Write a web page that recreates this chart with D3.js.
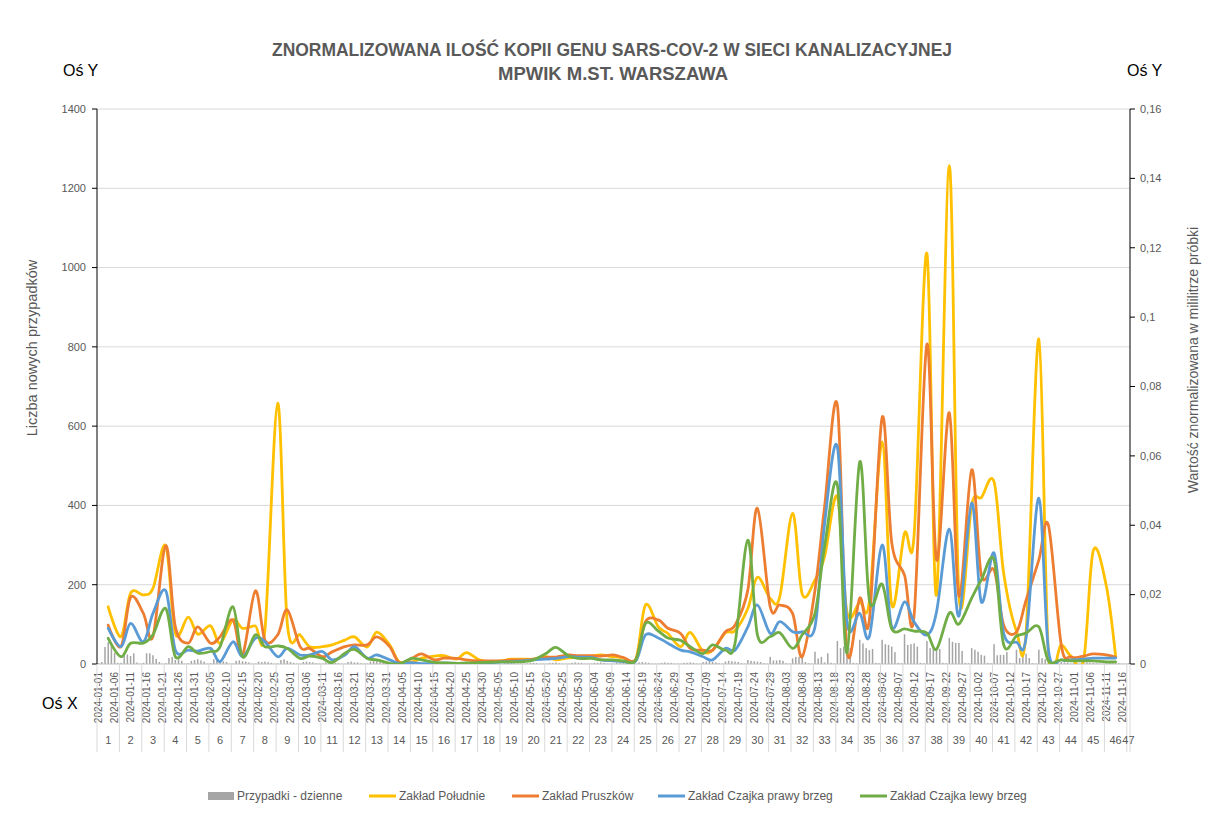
<!DOCTYPE html>
<html><head><meta charset="utf-8">
<script src="https://cdn.jsdelivr.net/npm/d3@7"></script>
<style>body{margin:0;background:#fff}svg{display:block}</style>
</head><body>
<svg id="chart" width="1221" height="816"></svg>
<script>
// ---- DATA ----
const sampleDates = ["2024-01-04","2024-01-08","2024-01-11","2024-01-15","2024-01-18","2024-01-22","2024-01-25","2024-01-29","2024-02-01","2024-02-05","2024-02-08","2024-02-12","2024-02-15","2024-02-19","2024-02-22","2024-02-26","2024-02-29","2024-03-04","2024-03-07","2024-03-11","2024-03-14","2024-03-18","2024-03-21","2024-03-25","2024-03-28","2024-04-01","2024-04-04","2024-04-08","2024-04-11","2024-04-15","2024-04-18","2024-04-22","2024-04-25","2024-04-29","2024-05-02","2024-05-06","2024-05-09","2024-05-13","2024-05-16","2024-05-20","2024-05-23","2024-05-27","2024-05-30","2024-06-03","2024-06-06","2024-06-10","2024-06-13","2024-06-17","2024-06-20","2024-06-24","2024-06-27","2024-07-01","2024-07-04","2024-07-08","2024-07-11","2024-07-15","2024-07-18","2024-07-22","2024-07-25","2024-07-29","2024-08-01","2024-08-05","2024-08-08","2024-08-12","2024-08-15","2024-08-19","2024-08-22","2024-08-26","2024-08-29","2024-09-02","2024-09-05","2024-09-09","2024-09-12","2024-09-16","2024-09-19","2024-09-23","2024-09-26","2024-09-30","2024-10-03","2024-10-07","2024-10-10","2024-10-14","2024-10-17","2024-10-21","2024-10-24","2024-10-28","2024-10-31","2024-11-04","2024-11-07","2024-11-11","2024-11-14"];

const poludnie = [0.0165,0.0079,0.0204,0.0199,0.0218,0.0341,0.0088,0.0135,0.0086,0.0110,0.0060,0.0127,0.0103,0.0110,0.0098,0.0752,0.0117,0.0084,0.0050,0.0050,0.0055,0.0069,0.0078,0.0049,0.0092,0.0055,0.0006,0.0006,0.0017,0.0023,0.0024,0.0014,0.0033,0.0012,0.0007,0.0009,0.0014,0.0014,0.0014,0.0021,0.0012,0.0018,0.0019,0.0023,0.0026,0.0021,0.0018,0.0014,0.0170,0.0107,0.0088,0.0050,0.0091,0.0036,0.0040,0.0090,0.0096,0.0160,0.0250,0.0189,0.0194,0.0434,0.0202,0.0242,0.0310,0.0482,0.0150,0.0178,0.0180,0.0640,0.0170,0.0377,0.0372,0.1184,0.0199,0.1437,0.0200,0.0460,0.0480,0.0525,0.0262,0.0095,0.0090,0.0937,0.0032,0.0055,0.0023,0.0012,0.0326,0.0230,0.0023];

const pruszkow = [0.0112,0.0050,0.0192,0.0146,0.0079,0.0341,0.0107,0.0060,0.0107,0.0060,0.0079,0.0127,0.0026,0.0211,0.0069,0.0084,0.0156,0.0050,0.0045,0.0021,0.0035,0.0050,0.0055,0.0055,0.0078,0.0050,0.0004,0.0017,0.0029,0.0012,0.0017,0.0016,0.0012,0.0009,0.0009,0.0009,0.0012,0.0012,0.0014,0.0019,0.0020,0.0026,0.0024,0.0024,0.0023,0.0026,0.0019,0.0014,0.0122,0.0127,0.0103,0.0088,0.0045,0.0040,0.0040,0.0093,0.0112,0.0213,0.0449,0.0165,0.0170,0.0146,0.0021,0.0213,0.0453,0.0746,0.0040,0.0190,0.0127,0.0711,0.0350,0.0256,0.0141,0.0922,0.0300,0.0724,0.0196,0.0560,0.0257,0.0271,0.0112,0.0092,0.0184,0.0300,0.0400,0.0055,0.0020,0.0023,0.0029,0.0026,0.0020];

const czajkaPrawy = [0.0103,0.0050,0.0117,0.0064,0.0146,0.0211,0.0040,0.0040,0.0037,0.0045,0.0007,0.0064,0.0021,0.0074,0.0064,0.0021,0.0045,0.0026,0.0026,0.0036,0.0012,0.0026,0.0050,0.0017,0.0026,0.0012,0.0002,0.0004,0.0001,0.0002,0.0003,0.0002,0.0001,0.0003,0.0003,0.0006,0.0006,0.0009,0.0012,0.0014,0.0016,0.0021,0.0020,0.0019,0.0012,0.0009,0.0007,0.0009,0.0084,0.0075,0.0060,0.0040,0.0035,0.0021,0.0012,0.0045,0.0040,0.0107,0.0170,0.0088,0.0122,0.0093,0.0093,0.0107,0.0405,0.0626,0.0122,0.0146,0.0079,0.0343,0.0107,0.0179,0.0121,0.0084,0.0150,0.0389,0.0138,0.0464,0.0179,0.0320,0.0089,0.0063,0.0075,0.0478,0.0040,0.0012,0.0012,0.0014,0.0017,0.0017,0.0017];

const czajkaLewy = [0.0074,0.0021,0.0060,0.0060,0.0084,0.0160,0.0021,0.0050,0.0031,0.0036,0.0050,0.0165,0.0021,0.0084,0.0050,0.0052,0.0045,0.0016,0.0023,0.0016,0.0004,0.0031,0.0042,0.0016,0.0012,0.0002,0.0000,0.0016,0.0012,0.0005,0.0003,0.0002,0.0003,0.0004,0.0005,0.0006,0.0006,0.0007,0.0012,0.0031,0.0048,0.0023,0.0016,0.0016,0.0012,0.0012,0.0009,0.0012,0.0117,0.0095,0.0075,0.0068,0.0050,0.0030,0.0055,0.0040,0.0060,0.0357,0.0084,0.0079,0.0090,0.0045,0.0084,0.0146,0.0338,0.0516,0.0032,0.0583,0.0184,0.0230,0.0101,0.0101,0.0095,0.0089,0.0043,0.0147,0.0115,0.0190,0.0242,0.0300,0.0055,0.0081,0.0089,0.0107,0.0009,0.0012,0.0009,0.0009,0.0009,0.0006,0.0006];

// daily new cases, 2024-01-01 .. 2024-11-18 (weeks Mon..Sun)
const dailyCases = [
 2,5,43,55,50,28,3,  3,23,24,20,27,4,1,  3,27,27,22,13,5,1,  2,15,18,10,12,8,1,
 2,8,10,12,9,6,1,  2,12,10,8,7,5,1,  1,8,9,7,6,4,1,  1,6,5,6,5,3,1,
 1,10,12,8,5,3,1,  1,5,6,5,4,2,1,  1,4,5,4,3,2,1,  1,5,6,4,4,2,1,
 1,6,8,12,10,3,1,  1,4,3,4,3,1,1,  1,3,4,3,2,1,1,  1,3,3,2,3,1,1,
 1,2,3,3,2,1,1,  1,2,2,3,2,1,0,  0,2,3,2,2,1,1,  1,2,3,3,2,1,1,
 1,3,3,4,2,1,1,  1,3,4,3,3,1,1,  1,3,3,4,3,1,1,  1,4,3,3,2,1,1,
 1,4,5,4,3,1,1,  1,3,4,3,3,1,1,  1,3,3,4,3,1,1,  5,6,7,5,4,2,1,
 6,8,7,6,5,2,1,  10,8,7,6,5,2,1,  18,9,9,10,8,2,1,  14,18,18,16,5,2,1,
 31,14,18,4,27,3,1,  58,40,44,48,40,3,2,  61,52,40,35,38,3,2,  61,50,48,44,30,3,2,
 75,48,50,52,44,3,2,  58,40,46,42,38,3,2,  66,56,53,53,33,3,2,  40,36,31,23,21,3,2,
 50,22,23,23,30,3,2,  36,15,23,26,15,2,1,  36,15,12,8,6,2,1,  5,4,4,1,3,1,1,
 4,4,3,3,2,1,1,  3,3,2,5,2,1,1,  2
];

const leftTicks = [0,200,400,600,800,1000,1200,1400];
const rightTicks = [0,0.02,0.04,0.06,0.08,0.1,0.12,0.14,0.16];
const rightTickLabels = ["0","0,02","0,04","0,06","0,08","0,1","0,12","0,14","0,16"];

const seriesNames = ["Zakład Południe","Zakład Pruszków","Zakład Czajka prawy brzeg","Zakład Czajka lewy brzeg"];
const seriesColors = ["#FFC000","#ED7D31","#5B9BD5","#70AD47"];
const seriesValues = [poludnie, pruszkow, czajkaPrawy, czajkaLewy];

// ---- LAYOUT ----
const L = 97, R = 1130, T = 109, B = 664;
const FONT = "'Liberation Sans', Arial, sans-serif";
const GREY = "#595959";

const svg = d3.select("#chart").style("font-family", FONT);
const fmt = d3.timeFormat("%Y-%m-%d");
const days = d3.timeDay.range(new Date(2024,0,1), new Date(2024,10,19)).map(fmt);

const x = d3.scaleBand().domain(days).range([L, R]).padding(0);
const yL = d3.scaleLinear().domain([0,1400]).range([B, T]);
const yR = d3.scaleLinear().domain([0,0.16]).range([B, T]);
const bw = x.bandwidth();
const cx = d => x(d) + bw/2;

// gridlines
svg.append("g").selectAll("line").data(leftTicks.slice(1)).join("line")
  .attr("x1", L).attr("x2", R).attr("y1", d => yL(d)).attr("y2", d => yL(d))
  .attr("stroke", "#d9d9d9").attr("stroke-width", 1);

// bars
svg.append("g").selectAll("rect").data(days).join("rect")
  .attr("x", d => cx(d) - 0.75)
  .attr("width", 1.5)
  .attr("y", (d,i) => yL(dailyCases[i] || 0))
  .attr("height", (d,i) => B - yL(dailyCases[i] || 0))
  .attr("fill", "#A5A5A5");

// x baseline
svg.append("line").attr("x1", L).attr("x2", R).attr("y1", B).attr("y2", B)
  .attr("stroke", "#bfbfbf").attr("stroke-width", 1);

// lines
svg.append("defs").append("clipPath").attr("id","clip")
  .append("rect").attr("x", L).attr("y", T-5).attr("width", R-L).attr("height", B-T+5);
const lineGen = d3.line().x(d => cx(d.date)).y(d => yR(d.v)).curve(d3.curveCardinal.tension(0));
const lg = svg.append("g").attr("clip-path","url(#clip)");
seriesValues.forEach((vals, k) => {
  const pts = sampleDates.map((dt, i) => ({date: dt, v: vals[i]})).filter(p => p.v != null);
  lg.append("path").attr("d", lineGen(pts)).attr("fill","none")
    .attr("stroke", seriesColors[k]).attr("stroke-width", 2.8)
    .attr("stroke-linejoin","round").attr("stroke-linecap","round");
});

// left axis
const gl = svg.append("g");
gl.append("line").attr("x1", L).attr("x2", L).attr("y1", T).attr("y2", B).attr("stroke", "#000");
gl.selectAll(".t").data(leftTicks).join("line").attr("x1", L-5).attr("x2", L)
  .attr("y1", d => yL(d)).attr("y2", d => yL(d)).attr("stroke", "#000");
gl.selectAll("text").data(leftTicks).join("text")
  .attr("x", L-11).attr("y", d => yL(d)).attr("dy", "0.35em")
  .attr("text-anchor","end").attr("font-size", 11).attr("fill", GREY).text(d => d);

// right axis
const gr = svg.append("g");
gr.append("line").attr("x1", R).attr("x2", R).attr("y1", T).attr("y2", B).attr("stroke", "#000");
gr.selectAll(".t").data(rightTicks).join("line").attr("x1", R).attr("x2", R+5)
  .attr("y1", d => yR(d)).attr("y2", d => yR(d)).attr("stroke", "#000");
gr.selectAll("text").data(rightTicks).join("text")
  .attr("x", R+10).attr("y", d => yR(d)).attr("dy", "0.35em")
  .attr("text-anchor","start").attr("font-size", 11).attr("fill", GREY)
  .text((d,i) => rightTickLabels[i]);

// x axis: date labels every 5 days
const gx = svg.append("g");
gx.selectAll("text").data(days.filter((d,i) => i % 5 === 0)).join("text")
  .attr("transform", d => `translate(${cx(d)+3.5},${B+8}) rotate(-90)`)
  .attr("text-anchor","end").attr("font-size", 10).attr("fill", GREY).text(d => d);

// week groups
const nWeeks = Math.ceil(days.length / 7);
const weeks = d3.range(1, nWeeks + 1);
const weekStart = w => x(days[(w-1)*7]);
const weekEnd = w => { const last = Math.min(w*7, days.length) - 1; return x(days[last]) + bw; };
gx.selectAll(".sep").data(weeks.map(weekStart).concat([R])).join("line")
  .attr("x1", d => d).attr("x2", d => d).attr("y1", B).attr("y2", 752)
  .attr("stroke", "#d9d9d9").attr("stroke-width", 1);
gx.selectAll(".wk").data(weeks).join("text")
  .attr("x", w => (weekStart(w) + weekEnd(w)) / 2).attr("y", 744)
  .attr("text-anchor","middle").attr("font-size", 11).attr("fill", GREY).text(w => w);

// titles
svg.append("text").attr("x", 612).attr("y", 56).attr("text-anchor","middle")
  .attr("font-size", 18).attr("font-weight","bold").attr("fill", GREY)
  .attr("textLength", 680).attr("lengthAdjust","spacingAndGlyphs")
  .text("ZNORMALIZOWANA ILOŚĆ KOPII GENU SARS-COV-2 W SIECI KANALIZACYJNEJ");
svg.append("text").attr("x", 613).attr("y", 80).attr("text-anchor","middle")
  .attr("font-size", 18).attr("font-weight","bold").attr("fill", GREY)
  .attr("textLength", 230).attr("lengthAdjust","spacingAndGlyphs")
  .text("MPWIK M.ST. WARSZAWA");

svg.append("text").attr("x", 63).attr("y", 76).attr("font-size", 16).attr("fill", "#000").text("Oś Y");
svg.append("text").attr("x", 1127).attr("y", 76).attr("font-size", 16).attr("fill", "#000").text("Oś Y");
svg.append("text").attr("x", 42).attr("y", 709).attr("font-size", 16).attr("fill", "#000").text("Oś X");

svg.append("text").attr("transform","translate(37,348) rotate(-90)").attr("text-anchor","middle")
  .attr("font-size", 14.5).attr("fill", GREY).text("Liczba nowych przypadków");
svg.append("text").attr("transform","translate(1198,360) rotate(-90)").attr("text-anchor","middle")
  .attr("font-size", 14).attr("fill", GREY).text("Wartość znormalizowana  w mililitrze próbki");

// legend
const leg = svg.append("g").attr("font-size", 12).attr("fill", GREY);
const legY = 796;
leg.append("rect").attr("x", 208).attr("y", legY-4).attr("width", 26).attr("height", 8).attr("fill", "#A5A5A5");
leg.append("text").attr("x", 237).attr("y", legY).attr("dy","0.35em").text("Przypadki - dzienne");
const legX = [369, 512, 658, 860];
seriesNames.forEach((n, k) => {
  leg.append("line").attr("x1", legX[k]).attr("x2", legX[k]+27).attr("y1", legY).attr("y2", legY)
    .attr("stroke", seriesColors[k]).attr("stroke-width", 3);
  leg.append("text").attr("x", legX[k]+30).attr("y", legY).attr("dy","0.35em").text(n);
});
</script>
</body></html>
